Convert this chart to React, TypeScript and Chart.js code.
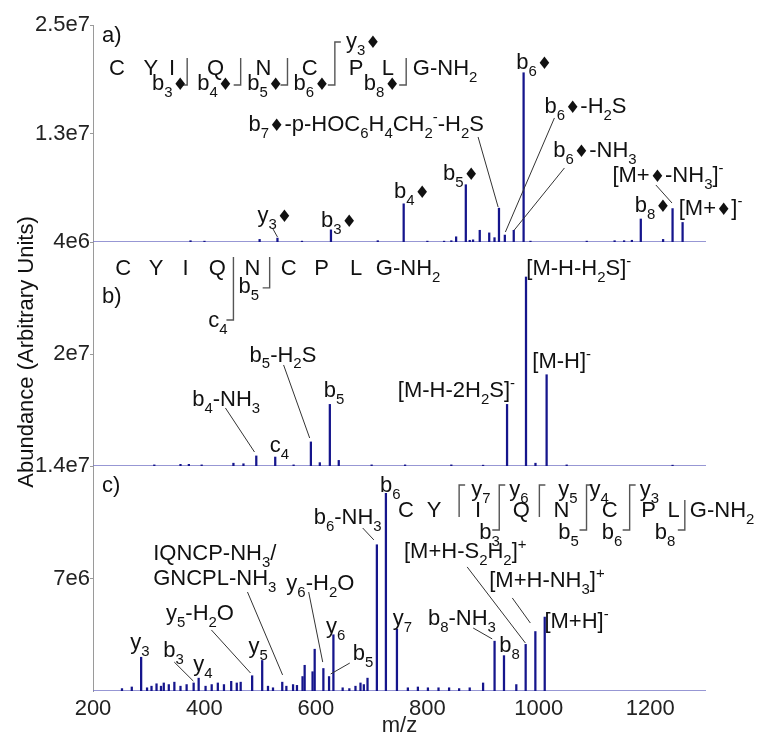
import React, { useEffect, useRef } from 'react';
import { Chart, registerables } from 'chart.js';

Chart.register(...registerables);

const FONT = '"Liberation Sans", Arial, Helvetica, sans-serif';
const SYM_FONT = '"DejaVu Sans", sans-serif';

// ---------- axes ----------
const X_MIN = 200;
const X_MAX = 1300;
const X_TICKS = [200, 400, 600, 800, 1000, 1200];
const X_TITLE = 'm/z';
const Y_TITLE = 'Abundance (Arbitrary Units)';

const A_MAX = 2.5e7;
const A_TICKS = [1.25e7, 2.5e7];
const A_TICK_LABELS = ['1.3e7', '2.5e7'];
const B_MAX = 4e7;
const B_TICKS = [2e7, 4e7];
const B_TICK_LABELS = ['2e7', '4e6'];
const C_MAX = 1.4e7;
const C_TICKS = [7e6, 1.4e7];
const C_TICK_LABELS = ['7e6', '1.4e7'];

// ---------- spectra (m/z, abundance in units of 1e6) ----------
const A_MZ = [375, 400, 499, 531, 575, 627, 711, 757.5, 800, 830, 843, 851.6, 869, 876, 882, 894, 911, 920.5, 928.5, 939, 955, 972.7, 985, 1086, 1136, 1153, 1167, 1183, 1223, 1240, 1258];
const A_INT = [0.15, 0.1, 0.3, 0.45, 0.1, 1.4, 0.15, 4.4, 0.1, 0.1, 0.15, 0.6, 6.6, 0.2, 0.25, 1.35, 1.05, 0.5, 3.9, 0.8, 1.35, 19.5, 0.1, 0.1, 0.15, 0.15, 0.2, 2.65, 0.3, 3.85, 2.25];

const B_MZ = [310, 357, 372, 395, 452, 470, 493, 527, 560, 591, 607, 625, 641, 700, 760, 843, 900, 943, 977, 994, 1014, 1050, 1240];
const B_INT = [0.2, 0.3, 0.3, 0.2, 0.5, 0.4, 1.8, 1.6, 0.2, 4.3, 0.6, 11.0, 1.0, 0.2, 0.2, 0.2, 0.15, 11.0, 33.75, 0.5, 16.3, 0.2, 0.15];

const C_MZ = [252, 269.6, 286.4, 297, 305, 314, 322, 327, 336, 346, 357, 368, 380.6, 389.6, 402, 413, 424, 435, 448, 458, 465, 485.6, 503.6, 514, 523, 539.6, 547, 559, 566, 576, 579.8, 594, 597.8, 613.4, 623.6, 631.4, 648, 660, 671, 680, 686, 692.6, 709.4, 725.6, 745.4, 765, 783, 801, 820, 839, 857, 876, 900, 920.6, 937.5, 959.6, 976.4, 993.8, 1010.6];
const C_INT = [0.15, 0.25, 2.1, 0.2, 0.3, 0.45, 0.3, 0.5, 0.4, 0.55, 0.3, 0.4, 0.5, 0.8, 0.3, 0.4, 0.5, 0.4, 0.6, 0.5, 0.55, 0.95, 1.9, 0.3, 0.2, 0.55, 0.3, 0.4, 0.35, 0.9, 1.6, 1.2, 2.6, 1.4, 0.9, 3.5, 0.2, 0.15, 0.3, 0.5, 0.4, 0.8, 9.1, 12.3, 3.86, 0.2, 0.25, 0.2, 0.2, 0.2, 0.15, 0.2, 0.5, 3.1, 2.2, 0.4, 2.9, 3.7, 4.6];

// ---------- annotations: [text, m/z (left edge), abundance 1e6 (baseline)] ----------
const A_LABELS: [string, number, number][] = [
  ['a)', 216, 23.0],
  ['b_6♦', 959.6, 19.9],
  ['b_6♦-H_2S', 1010, 14.86],
  ['b_6♦-NH_3', 1026, 9.79],
  ['b_7♦-p-HOC_6H_4CH_2^--H_2S', 479, 12.79],
  ['b_5♦', 828, 7.14],
  ['b_4♦', 740, 5.07],
  ['[M+♦-NH_3]^-', 1132, 6.91],
  ['b_8♦', 1172, 3.46],
  ['[M+♦]^-', 1251, 3.11],
  ['y_3♦', 495, 2.3],
  ['b_3♦', 609, 1.73],
  ['b_3♦', 306, 17.51],
  ['b_4♦', 387, 17.51],
  ['b_5♦', 477, 17.51],
  ['b_6♦', 560, 17.51],
  ['b_8♦', 686, 17.51],
  ['y_3♦', 654, 22.35],
  ['G-NH_2', 774, 19.2],
];
const A_SEQ: [string, number][] = [['C', 243], ['Y', 304], ['I', 342], ['Q', 420], ['N', 506], ['C', 589], ['P', 672], ['L', 729]];
const A_SEQ_Y = 19.2;
// [cut m/z, bottom, top, tails (1 bottom-left, 2 top-right, 3 both)]
const A_BRACKETS: [number, number, number, number][] = [
  [369, 18.09, 21.2, 1], [465, 18.09, 21.2, 1], [549, 18.09, 21.2, 1], [634, 18.09, 23.04, 3], [762, 18.09, 21.2, 1],
];
const A_LEADERS: [number, number, number, number][] = [
  [891, 12.1, 927, 4.03], [1028, 14.29, 940, 1.15], [1046, 8.53, 956, 1.38], [1210, 6.57, 1239, 4.49], [522, 1.61, 531, 0.58],
];

const B_LABELS: [string, number, number][] = [
  ['b)', 216, 29.1],
  ['[M-H-H_2S]^-', 977.6, 34.1],
  ['[M-H]^-', 988.4, 17.5],
  ['[M-H-2H_2S]^-', 747, 12.3],
  ['b_4-NH_3', 378, 10.7],
  ['c_4', 517, 2.5],
  ['b_5-H_2S', 481, 18.6],
  ['b_5', 614, 12.3],
  ['c_4', 407, 24.8],
  ['b_5', 461, 30.9],
  ['G-NH_2', 707.6, 34.1],
];
const B_SEQ: [string, number][] = [['C', 254], ['Y', 313], ['I', 366], ['Q', 423], ['N', 486], ['C', 551], ['P', 610], ['L', 672]];
const B_SEQ_Y = 34.1;
const B_BRACKETS: [number, number, number, number][] = [[452, 26.07, 37.3, 1], [517, 31.8, 37.3, 1]];
const B_LEADERS: [number, number, number, number][] = [[437.6, 10.36, 489.8, 2.5], [542, 18.04, 588.8, 5.0]];

const C_LABELS: [string, number, number][] = [
  ['c)', 216, 12.38],
  ['b_6-NH_3', 596, 10.39],
  ['b_6', 715, 12.38],
  ['[M+H-S_2H_2]^+', 758, 8.28],
  ['[M+H-NH_3]^+', 911, 6.47],
  ['[M+H]^-', 1010, 3.92],
  ['y_7', 738, 4.11],
  ['b_8-NH_3', 801, 4.11],
  ['b_8', 929, 2.43],
  ['IQNCP-NH_3/', 308, 8.15],
  ['GNCPL-NH_3', 308, 6.6],
  ['y_6-H_2O', 547, 6.28],
  ['y_5-H_2O', 331, 4.42],
  ['y_3', 267, 2.61],
  ['b_3', 326, 2.12],
  ['y_4', 380, 1.24],
  ['y_5', 479, 2.36],
  ['y_6', 618, 3.61],
  ['b_5', 666, 1.93],
  ['y_7', 878.6, 12.13],
  ['y_6', 947, 12.13],
  ['y_5', 1035, 12.13],
  ['y_4', 1091, 12.13],
  ['y_3', 1181, 12.13],
  ['b_3', 893, 9.46],
  ['b_5', 1035, 9.46],
  ['b_6', 1113, 9.46],
  ['b_8', 1208, 9.46],
  ['G-NH_2', 1271, 10.83],
];
const C_SEQ: [string, number][] = [['C', 761.6], ['Y', 812], ['I', 891], ['Q', 968.6], ['N', 1040.6], ['C', 1127], ['P', 1197], ['L', 1242]];
const C_SEQ_Y = 10.83;
const C_BRACKETS: [number, number, number, number][] = [
  [857, 10.83, 12.82, 2], [929, 10.02, 12.82, 3], [1001, 10.83, 12.82, 2], [1085.6, 10.02, 12.82, 3], [1163, 10.02, 12.82, 3], [1262, 10.02, 11.89, 1],
];
const C_LEADERS: [number, number, number, number][] = [
  [684, 10.14, 704, 9.4], [345.8, 1.8, 380, 0.62], [412.4, 3.8, 482.6, 1.12], [477.2, 6.16, 540.2, 1.0],
  [587, 6.16, 612.2, 1.8], [660.8, 1.74, 626.6, 1.06], [882.2, 3.92, 916.4, 3.24], [871.4, 7.72, 975.8, 2.99], [952.4, 5.79, 984.8, 4.23],
];

const PEAK_COLOR = '#15158c';
const BASE_COLOR = '#7474c6';
const TEXT_COLOR = '#111111';
const LABEL_SIZE = 22;
const TICK_SIZE = 22;

const PANELS = [
  { axis: 'ya', mz: A_MZ, int: A_INT, labels: A_LABELS, seq: A_SEQ, seqY: A_SEQ_Y, brackets: A_BRACKETS, leaders: A_LEADERS },
  { axis: 'yb', mz: B_MZ, int: B_INT, labels: B_LABELS, seq: B_SEQ, seqY: B_SEQ_Y, brackets: B_BRACKETS, leaders: B_LEADERS },
  { axis: 'yc', mz: C_MZ, int: C_INT, labels: C_LABELS, seq: C_SEQ, seqY: C_SEQ_Y, brackets: C_BRACKETS, leaders: C_LEADERS },
];

type Seg = { t: string; k: number };
function parseRich(s: string): Seg[] {
  const out: Seg[] = [];
  for (let i = 0; i < s.length; i++) {
    const c = s[i];
    if ((c === '_' || c === '^') && i + 1 < s.length) {
      out.push({ t: s[i + 1], k: c === '_' ? 1 : 2 });
      i++;
    } else out.push({ t: c, k: 0 });
  }
  return out;
}

function segFont(seg: Seg, size: number) {
  let fs = seg.k ? size * 0.68 : size;
  let fam = FONT;
  if (seg.t === '♦') {
    fam = SYM_FONT;
    fs = fs * 0.78;
  }
  return `${fs}px ${fam}`;
}

function measureRich(ctx: CanvasRenderingContext2D, text: string, size: number) {
  let w = 0;
  for (const s of parseRich(text)) {
    ctx.font = segFont(s, size);
    w += ctx.measureText(s.t).width;
  }
  return w;
}

function drawRich(ctx: CanvasRenderingContext2D, text: string, x: number, y: number, size: number) {
  let cx = x;
  for (const s of parseRich(text)) {
    ctx.font = segFont(s, size);
    const dy = s.k === 1 ? size * 0.3 : s.k === 2 ? -size * 0.42 : 0;
    ctx.fillText(s.t, cx, y + dy);
    cx += ctx.measureText(s.t).width;
  }
}

const annotatePlugin = {
  id: 'specAnnotations',
  afterDatasetsDraw(chart: any) {
    const ctx: CanvasRenderingContext2D = chart.ctx;
    const xs = chart.scales.x;
    ctx.save();
    ctx.textAlign = 'left';
    ctx.textBaseline = 'alphabetic';
    ctx.fillStyle = TEXT_COLOR;
    for (const p of PANELS) {
      const ys = chart.scales[p.axis];
      const px = (m: number) => xs.getPixelForValue(m);
      const py = (v: number) => ys.getPixelForValue(v * 1e6);
      // leader lines
      ctx.strokeStyle = '#333333';
      ctx.lineWidth = 1;
      for (const [x1, y1, x2, y2] of p.leaders) {
        ctx.beginPath();
        ctx.moveTo(px(x1), py(y1));
        ctx.lineTo(px(x2), py(y2));
        ctx.stroke();
      }
      // cleavage brackets
      ctx.strokeStyle = '#555555';
      ctx.lineWidth = 1.4;
      for (const [m, yb, yt, tails] of p.brackets) {
        const x = px(m);
        ctx.beginPath();
        if (tails & 1) {
          ctx.moveTo(x - 7, py(yb));
          ctx.lineTo(x, py(yb));
        } else ctx.moveTo(x, py(yb));
        ctx.lineTo(x, py(yt));
        if (tails & 2) ctx.lineTo(x + 6, py(yt));
        ctx.stroke();
      }
      // sequence letters
      ctx.fillStyle = TEXT_COLOR;
      for (const [t, m] of p.seq) {
        const w = measureRich(ctx, t, LABEL_SIZE);
        drawRich(ctx, t, px(m) - w / 2, py(p.seqY), LABEL_SIZE);
      }
      // labels
      for (const [t, m, v] of p.labels) {
        drawRich(ctx, t, px(m), py(v), LABEL_SIZE);
      }
    }
    // y title
    const area = chart.chartArea;
    ctx.save();
    ctx.translate(27, area.top + (area.bottom - area.top) * 0.491);
    ctx.rotate(-Math.PI / 2);
    ctx.textAlign = 'center';
    ctx.textBaseline = 'middle';
    ctx.font = `${TICK_SIZE}px ${FONT}`;
    ctx.fillText(Y_TITLE, 0, 0);
    ctx.restore();
    ctx.restore();
  },
};

function yAxis(max: number, ticks: number[], labels: string[], weight: number, stackWeight: number) {
  return {
    type: 'linear',
    position: 'left',
    stack: 'spectra',
    stackWeight,
    weight,
    min: 0,
    max,
    offset: false,
    afterBuildTicks: (s: any) => {
      s.ticks = ticks.map((v) => ({ value: v }));
    },
    afterFit: (s: any) => {
      s.width = 93;
    },
    ticks: {
      autoSkip: false,
      padding: 0,
      color: '#222222',
      font: { size: TICK_SIZE, family: FONT },
      callback: (_v: any, i: number) => labels[i],
    },
    grid: { display: true, drawOnChartArea: false, drawTicks: true, tickLength: 3, color: '#9a9a9a' },
    border: { display: true, color: '#9a9a9a', width: 1 },
  };
}

export default function App() {
  const ref = useRef<HTMLCanvasElement | null>(null);
  useEffect(() => {
    if (!ref.current) return;
    const datasets: any[] = [];
    PANELS.forEach((p) => {
      datasets.push({
        type: 'bar',
        data: p.mz.map((m, k) => ({ x: m, y: p.int[k] * 1e6 })),
        yAxisID: p.axis,
        xAxisID: 'x',
        backgroundColor: PEAK_COLOR,
        borderWidth: 0,
        barThickness: 1.6,
        grouped: false,
        order: 1,
      });
      datasets.push({
        type: 'line',
        data: [{ x: X_MIN, y: 0 }, { x: X_MAX, y: 0 }],
        yAxisID: p.axis,
        xAxisID: 'x',
        borderColor: BASE_COLOR,
        borderWidth: 1.3,
        pointRadius: 0,
        order: 2,
      });
    });
    const chart = new Chart(ref.current, {
      type: 'bar',
      data: { datasets },
      options: {
        animation: false,
        responsive: false,
        layout: { padding: { top: 25, right: 51, bottom: 0, left: 0 } },
        plugins: { legend: { display: false }, tooltip: { enabled: false }, title: { display: false } },
        scales: {
          x: {
            type: 'linear',
            min: X_MIN,
            max: X_MAX,
            offset: false,
            afterBuildTicks: (s: any) => {
              s.ticks = X_TICKS.map((v) => ({ value: v }));
            },
            afterFit: (s: any) => {
              s.height = 48;
            },
            ticks: {
              autoSkip: false,
              maxRotation: 0,
              padding: 5,
              color: '#222222',
              font: { size: TICK_SIZE, family: FONT },
              callback: (v: any) => String(v),
            },
            grid: { display: false, drawTicks: false },
            border: { display: false },
            title: { display: true, text: X_TITLE, color: '#222222', font: { size: TICK_SIZE, family: FONT }, padding: { top: 0, bottom: 0 } },
          },
          ya: yAxis(A_MAX, A_TICKS, A_TICK_LABELS, 3, 217),
          yb: yAxis(B_MAX, B_TICKS, B_TICK_LABELS, 2, 224),
          yc: yAxis(C_MAX, C_TICKS, C_TICK_LABELS, 1, 225),
        } as any,
      },
      plugins: [annotatePlugin],
    } as any);
    return () => chart.destroy();
  }, []);
  return (
    <div style={{ position: 'absolute', left: 0, top: 0, width: 757, height: 739, background: '#ffffff' }}>
      <canvas ref={ref} width={757} height={739} style={{ display: 'block', width: 757, height: 739 }} />
    </div>
  );
}
